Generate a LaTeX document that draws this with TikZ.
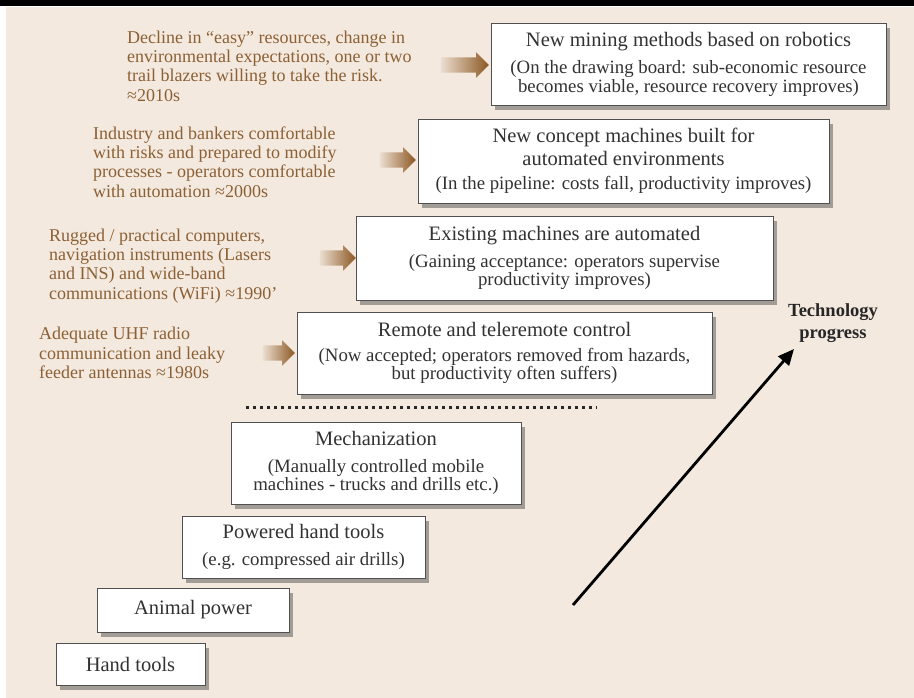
\documentclass[tikz,border=0pt]{standalone}
\usepackage{fontspec}
\setmainfont{Liberation Serif}
\usetikzlibrary{shapes.arrows, shadows, arrows.meta, positioning}
\definecolor{paper}{RGB}{243,233,223}
\definecolor{causebrown}{RGB}{140,96,52}
\definecolor{pushbrown}{RGB}{140,88,34}
\definecolor{boxline}{RGB}{80,80,80}
\definecolor{boxtext}{RGB}{50,50,50}
\newcommand{\stagetitle}[1]{{\fontsize{20.5}{22}\selectfont #1}}

\begin{document}
\begin{tikzpicture}[
        x=1pt, y=-1pt,
        stagebox/.style={rectangle, draw=boxline, thick, fill=white, align=center, inner sep=2pt, text=boxtext, font=\fontsize{18.8}{18.5}\selectfont, drop shadow={shadow xshift=4pt, shadow yshift=-5pt, fill=black!75, opacity=0.45}},
        cause/.style={anchor=west, align=left, text=causebrown, inner sep=0pt, font=\fontsize{18}{19.3}\selectfont},
        push/.style={single arrow, minimum height=#1, text height=7.5pt, text depth=7.5pt, text width=0pt, single arrow head extend=5pt, inner sep=0pt, draw=none, left color=pushbrown!8!paper, middle color=pushbrown!80!paper, right color=pushbrown},
        progress/.style={-{Triangle[length=16pt, width=14pt]}, line width=2.8pt}
    ]
    % frame
    \useasboundingbox (0,0) rectangle (914,698);
    \fill[paper] (6,7) rectangle (914,698);
    \fill[black] (0,0) rectangle (914,6);

    % stages, top to bottom
    \node[stagebox, minimum width=395pt, minimum height=82pt] (robotics) at (688.5,64) {\stagetitle{New mining methods based on robotics}\\[9pt](On the drawing board: sub-economic resource\\ becomes viable, resource recovery improves)};
    \node[stagebox, minimum width=411pt, minimum height=84pt] (concept) at (623.5,161) {\stagetitle{New concept machines built for}\\[3.5pt]\stagetitle{automated environments}\\[6pt](In the pipeline: costs fall, productivity improves)};
    \node[stagebox, minimum width=417pt, minimum height=84pt] (automated) at (564.5,258) {\stagetitle{Existing machines are automated}\\[8pt](Gaining acceptance: operators supervise\\ productivity improves)};
    \node[stagebox, minimum width=415pt, minimum height=82pt] (remote) at (504.5,353) {\stagetitle{Remote and teleremote control}\\[6pt](Now accepted; operators removed from hazards,\\ but productivity often suffers)};
    \node[stagebox, minimum width=290pt, minimum height=82pt] (mech) at (376,463) {\stagetitle{Mechanization}\\[8pt](Manually controlled mobile\\ machines - trucks and drills etc.)};
    \node[stagebox, minimum width=243pt, minimum height=62pt] (powered) at (303.5,547) {\stagetitle{Powered hand tools}\\[8pt](e.g. compressed air drills)};
    \node[stagebox, minimum width=192pt, minimum height=44pt] (animal) at (193,610) {\stagetitle{Animal power}};
    \node[stagebox, minimum width=149pt, minimum height=42pt] (hand) at (130.5,664) {\stagetitle{Hand tools}};

    \coordinate (dotsL) at (246,407);
    \coordinate (dotsR) at (597,407);
    \draw[line width=3pt, dash pattern=on 3pt off 4pt, black!85] (dotsL) -- (dotsR);

    % drivers
    \node[cause] (decline) at (127,66) {Decline in “easy” resources, change in\\ environmental expectations, one or two\\ trail blazers willing to take the risk.\\ ≈2010s};
    \node[cause] (bankers) at (93,162) {Industry and bankers comfortable\\ with risks and prepared to modify\\ processes - operators comfortable\\ with automation ≈2000s};
    \node[cause] (rugged) at (49,266) {Rugged / practical computers,\\ navigation instruments (Lasers\\ and INS) and wide-band\\ communications (WiFi) ≈1990'};
    \node[cause] (uhf) at (39,353) {Adequate UHF radio\\ communication and leaky\\ feeder antennas ≈1980s};

    \node[push=48pt] (pushA) at (461,65) {};
    \node[push=36pt] (pushB) at (394,160) {};
    \node[push=36pt] (pushC) at (334,258) {};
    \node[push=32pt] (pushD) at (275,353) {};

    % progress arrow
    \node[align=center, font=\bfseries\fontsize{18.5}{22}\selectfont, text=black!85] (tech) at (833,323) {Technology\\ progress};
    \coordinate (rise) at (573,605);
    \coordinate (peak) at (794,349);
    \draw[progress] (rise) -- (peak);
\end{tikzpicture}
\end{document}
